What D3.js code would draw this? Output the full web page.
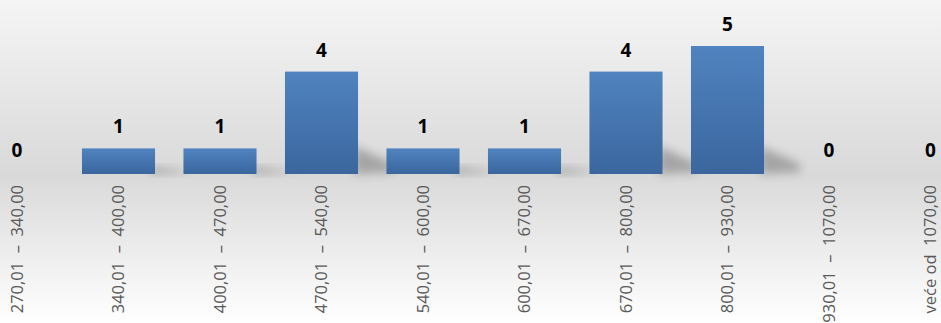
<!DOCTYPE html>
<html><head><meta charset="utf-8">
<script src="https://cdn.jsdelivr.net/npm/d3@7"></script>
<style>html,body{margin:0;padding:0;overflow:hidden;background:#fff}</style>
</head><body>
<script>
const categories = ["270,01 – 340,00","340,01 – 400,00","400,01 – 470,00","470,01 – 540,00","540,01 – 600,00","600,01 – 670,00","670,01 – 800,00","800,01 – 930,00","930,01 – 1070,00","veće od  1070,00"];
const counts = [0,1,1,4,1,1,4,5,0,0];

const W = 941, H = 323;
const svg = d3.select("body").append("svg").attr("width", W).attr("height", H);
const defs = svg.append("defs");
const bg = defs.append("linearGradient").attr("id","bg").attr("x1",0).attr("y1",0).attr("x2",0).attr("y2",1);
bg.append("stop").attr("offset","0%").attr("stop-color","#f5f5f5");
bg.append("stop").attr("offset","54%").attr("stop-color","#d9d9d9");
bg.append("stop").attr("offset","100%").attr("stop-color","#ffffff");
const bar = defs.append("linearGradient").attr("id","bar").attr("x1",0).attr("y1",0).attr("x2",0).attr("y2",1);
bar.append("stop").attr("offset","0%").attr("stop-color","#5083bf");
bar.append("stop").attr("offset","100%").attr("stop-color","#3b669e");
const blur = defs.append("filter").attr("id","blur").attr("x","-50%").attr("y","-50%").attr("width","200%").attr("height","200%");
blur.append("feGaussianBlur").attr("stdDeviation",5);

svg.append("rect").attr("width",W).attr("height",H).attr("fill","url(#bg)");

const x = d3.scaleBand().domain(categories).range([-33.75, 981.25]).paddingInner(0.28).paddingOuter(0.14);
const y = d3.scaleLinear().domain([0,5]).range([174, 46]);

// shadows
svg.append("g").selectAll("path").data(categories.filter((c,i)=>counts[i]>0)).join("path")
  .attr("filter","url(#blur)")
  .attr("fill","#5a5a5a").attr("opacity",0.42)
  .attr("d", c => {
    const v = counts[categories.indexOf(c)];
    const x1 = x(c) + x.bandwidth();
    const h = Math.min((y(0)-y(v))*0.28, 28);
    const b = y(0);
    return `M${x1-4},${b} L${x1-4},${b-h} L${x1+36},${b-h*0.35} L${x1+36},${b-2} Z`;
  });

svg.append("g").selectAll("rect").data(categories).join("rect")
  .attr("x", c => x(c))
  .attr("width", x.bandwidth())
  .attr("y", (c,i) => y(counts[i]))
  .attr("height", (c,i) => y(0) - y(counts[i]))
  .attr("fill","url(#bar)");

svg.append("g").selectAll("text").data(categories).join("text")
  .attr("x", c => x(c) + x.bandwidth()/2)
  .attr("y", (c,i) => y(counts[i]) - (counts[i] ? 15 : 17))
  .attr("text-anchor","middle")
  .attr("font-family","'Open Sans', sans-serif")
  .attr("font-weight","bold")
  .attr("font-size",19)
  .attr("fill","#000")
  .text((c,i) => counts[i]);

const xAxis = svg.append("g").attr("transform","translate(0,174)")
  .call(d3.axisBottom(x).tickSize(0).tickPadding(0));
xAxis.select(".domain").remove();
xAxis.selectAll("text")
  .attr("font-family","'Open Sans', sans-serif")
  .attr("font-size",16.5)
  .attr("fill","#595959")
  .attr("text-anchor","end")
  .attr("transform","rotate(-90)")
  .attr("x",-11).attr("y",0).attr("dy","0.35em")
  .style("white-space","pre")
  .text(d => d.replace(" – ", "  –  "));
</script>
</body></html>
